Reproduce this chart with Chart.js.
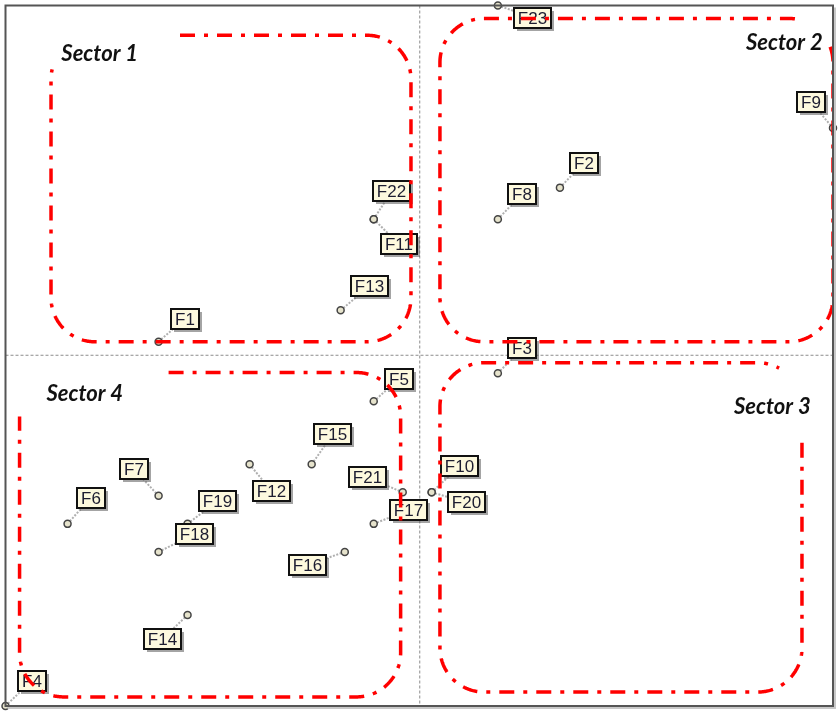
<!doctype html>
<html lang="en">
<head>
    <meta charset="utf-8">
    <title>Sector map</title>
    <script src="https://cdn.jsdelivr.net/npm/chart.js@4/dist/chart.umd.min.js"></script>
    <style>
        html, body { margin: 0; padding: 0; background: #fff; }
        .chart-container { position: relative; width: 840px; height: 715px; }
    </style>
</head>
<body>
    <div class="chart-container"><canvas id="chart"></canvas></div>
    <script>
        // point data (axes normalised to -1..1, crosshair at 0/0)
        const pointNames = ["F1", "F2", "F3", "F4", "F5", "F6", "F7", "F8", "F9", "F10", "F11", "F12",
            "F13", "F14", "F15", "F16", "F17", "F18", "F19", "F20", "F21", "F22", "F23"];
        const xValues = [-0.63, 0.34, 0.19, -1.0, -0.11, -0.85, -0.63, 0.19, 1.0, 0.03, -0.11, -0.41,
            -0.19, -0.56, -0.26, -0.18, -0.11, -0.63, -0.56, 0.03, -0.04, -0.11, 0.19];
        const yValues = [0.04, 0.48, -0.05, -1.0, -0.13, -0.48, -0.40, 0.39, 0.65, -0.39, 0.39, -0.31,
            0.13, -0.74, -0.31, -0.56, -0.48, -0.56, -0.48, -0.39, -0.39, 0.39, 1.0];

        // where each callout box sits relative to its point (px)
        const labelOffsets = [[26, -23], [24, -25], [24, -25], [26, -25], [25, -22], [23, -26], [-25, -27],
            [24, -25], [-22, -26], [28, -26], [25, 25], [22, 27], [29, -24], [-25, 24], [21, -30],
            [-37, 13], [35, -14], [36, -18], [30, -23], [35, 10], [-35, -15], [18, -28], [35, 12]];

        // sector outlines in data units, with the corner where the outline is left open
        const sectorNames = ["Sector 1", "Sector 2", "Sector 3", "Sector 4"];
        const sectorX = [[-0.89, -0.02], [0.05, 1.0], [0.05, 0.925], [-0.966, -0.045]];
        const sectorY = [[0.04, 0.915], [0.04, 0.963], [-0.96, -0.02], [-0.974, -0.048]];
        const sectorGaps = [["tl", -0.58, 0.82], ["tr", 0.92, 0.883], ["tr", 0.87, -0.248], ["tl", -0.607, -0.171]];
        const sectorNameX = [-0.865, 0.975, 0.946, -0.901];
        const sectorNameY = [0.863, 0.892, -0.145, -0.108];
        const sectorNameAlign = ["left", "right", "right", "left"];

        function perimeter(L, T, R, B, r) {
            const pts = [];
            const edge = (x0, y0, x1, y1) => {
                const n = Math.max(1, Math.round(Math.hypot(x1 - x0, y1 - y0)));
                for (let k = 0; k < n; k++) pts.push([x0 + (x1 - x0) * k / n, y0 + (y1 - y0) * k / n]);
            };
            const arc = (cx, cy, a0) => {
                const n = Math.round(r * Math.PI / 2);
                for (let k = 0; k < n; k++) {
                    const a = a0 + (Math.PI / 2) * k / n;
                    pts.push([cx + r * Math.cos(a), cy + r * Math.sin(a)]);
                }
            };
            edge(L + r, T, R - r, T);
            arc(R - r, T + r, -Math.PI / 2);
            edge(R, T + r, R, B - r);
            arc(R - r, B - r, 0);
            edge(R - r, B, L + r, B);
            arc(L + r, B - r, Math.PI / 2);
            edge(L, B - r, L, T + r);
            arc(L + r, T + r, Math.PI);
            return pts;
        }

        const overlay = {
            id: "overlay",
            beforeDatasetsDraw(chart) {
                const { ctx, chartArea: a, scales: { x, y } } = chart;
                ctx.save();
                const cx = x.getPixelForValue(0), cy = y.getPixelForValue(0);
                ctx.strokeStyle = "#8c8c8c";
                ctx.lineWidth = 1;
                ctx.setLineDash([3, 2]);
                ctx.beginPath();
                ctx.moveTo(cx + 0.5, a.top);
                ctx.lineTo(cx + 0.5, a.bottom);
                ctx.moveTo(a.left, cy - 0.5);
                ctx.lineTo(a.right, cy - 0.5);
                ctx.stroke();

                // leader lines
                const meta = chart.getDatasetMeta(0);
                ctx.setLineDash([2, 1.5]);
                ctx.strokeStyle = "#b0b0b0";
                ctx.lineWidth = 2;
                meta.data.forEach((pt, i) => {
                    const [dx, dy] = labelOffsets[i];
                    ctx.beginPath();
                    ctx.moveTo(pt.x, pt.y);
                    ctx.lineTo(pt.x + dx, pt.y + dy);
                    ctx.stroke();
                });
                ctx.restore();
            },
            afterDatasetsDraw(chart) {
                const { ctx, chartArea: a, scales: { x, y } } = chart;
                const meta = chart.getDatasetMeta(0);
                ctx.save();

                // callout boxes
                ctx.font = '17px "Liberation Sans", Arial, sans-serif';
                ctx.textAlign = "center";
                ctx.textBaseline = "middle";
                meta.data.forEach((pt, i) => {
                    const [dx, dy] = labelOffsets[i];
                    const w = Math.round(ctx.measureText(pointNames[i]).width) + 8;
                    const h = 20;
                    const bx = Math.round(pt.x + dx - w / 2), by = Math.round(pt.y + dy - h / 2);
                    ctx.fillStyle = "rgba(90,90,90,0.55)";
                    ctx.fillRect(bx + 3, by + 3, w, h);
                    ctx.fillStyle = "#fdf9de";
                    ctx.fillRect(bx, by, w, h);
                    ctx.strokeStyle = "#111";
                    ctx.lineWidth = 2;
                    ctx.strokeRect(bx, by, w, h);
                    ctx.fillStyle = "#1c1c30";
                    ctx.fillText(pointNames[i], bx + w / 2, by + h / 2 + 1);
                });

                // sector outlines
                ctx.strokeStyle = "#ff0000";
                ctx.lineWidth = 3.5;
                ctx.setLineDash([15, 9, 4, 9]);
                sectorNames.forEach((name, i) => {
                    const L = x.getPixelForValue(sectorX[i][0]), R = x.getPixelForValue(sectorX[i][1]);
                    const T = y.getPixelForValue(sectorY[i][1]), B = y.getPixelForValue(sectorY[i][0]);
                    const [corner, gxv, gyv] = sectorGaps[i];
                    const gx = x.getPixelForValue(gxv), gy = y.getPixelForValue(gyv);
                    const inGap = p => (corner === "tl" ? p[0] < gx : p[0] > gx) && p[1] < gy;
                    const pts = perimeter(L, T, R, B, 44);
                    let start = pts.findIndex((p, k) => !inGap(p) && inGap(pts[(k - 1 + pts.length) % pts.length]));
                    if (start < 0) start = 0;
                    ctx.beginPath();
                    let open = false;
                    for (let k = 0; k < pts.length; k++) {
                        const p = pts[(start + k) % pts.length];
                        if (inGap(p)) { open = false; continue; }
                        if (!open) { ctx.moveTo(p[0], p[1]); open = true; } else ctx.lineTo(p[0], p[1]);
                    }
                    ctx.stroke();
                });
                ctx.setLineDash([]);

                // sector names
                ctx.font = 'italic bold 22px Lato, "Open Sans", sans-serif';
                ctx.fillStyle = "#111";
                sectorNames.forEach((name, i) => {
                    ctx.textAlign = sectorNameAlign[i];
                    ctx.fillText(name, x.getPixelForValue(sectorNameX[i]), y.getPixelForValue(sectorNameY[i]));
                });

                // plot frame
                ctx.strokeStyle = "#c8c8c8";
                ctx.lineWidth = 2;
                ctx.beginPath();
                ctx.moveTo(a.left + 2, a.bottom + 2);
                ctx.lineTo(a.right + 2, a.bottom + 2);
                ctx.lineTo(a.right + 2, a.top + 2);
                ctx.stroke();
                ctx.strokeStyle = "#555";
                ctx.strokeRect(a.left, a.top, a.right - a.left, a.bottom - a.top);
                ctx.restore();
            }
        };

        const ctx = document.getElementById("chart").getContext("2d");
        new Chart(ctx, {
            type: "scatter",
            data: {
                datasets: [{
                    label: "Factors",
                    data: xValues.map((v, i) => ({ x: v, y: yValues[i] })),
                    pointRadius: 3.5,
                    pointBackgroundColor: "#e6e3cc",
                    pointBorderColor: "#444",
                    pointBorderWidth: 1.5,
                    clip: false,
                }],
            },
            options: {
                animation: false,
                responsive: true,
                maintainAspectRatio: false,
                layout: { padding: { left: 4, top: 4, right: 7, bottom: 9 } },
                plugins: { legend: { display: false }, tooltip: { enabled: false } },
                scales: {
                    x: { type: "linear", min: -1, max: 1, display: false },
                    y: { type: "linear", min: -1, max: 1, display: false },
                },
            },
            plugins: [overlay],
        });
    </script>
</body>
</html>
